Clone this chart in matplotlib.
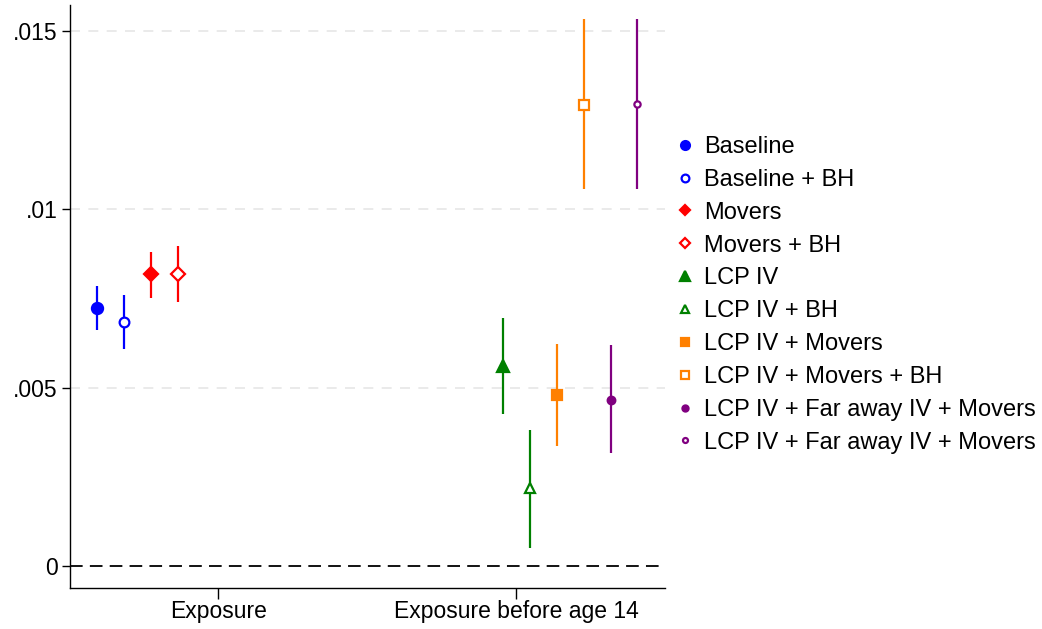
import matplotlib
matplotlib.use("Agg")
import matplotlib.pyplot as plt
from matplotlib.lines import Line2D

plt.rcParams['font.family'] = ['Liberation Sans', 'DejaVu Sans']

categories = ["Exposure", "Exposure before age 14"]
models = ["Baseline", "Baseline + BH", "Movers", "Movers + BH", "LCP IV", "LCP IV + BH",
          "LCP IV + Movers", "LCP IV + Movers + BH",
          "LCP IV + Far away IV + Movers", "LCP IV + Far away IV + Movers"]
model_category = [0, 0, 0, 0, 1, 1, 1, 1, 1, 1]
estimates = [0.00723, 0.00684, 0.00819, 0.00819, 0.00561, 0.00219, 0.00479, 0.01293, 0.00465, 0.01294]
ci_low = [0.00662, 0.00608, 0.00751, 0.00740, 0.00426, 0.00050, 0.00336, 0.01057, 0.00317, 0.01057]
ci_high = [0.00785, 0.00760, 0.00880, 0.00897, 0.00695, 0.00381, 0.00622, 0.01534, 0.00620, 0.01534]

colors = ["#0000ff", "#0000ff", "#ff0000", "#ff0000", "#008000", "#008000",
          "#ff8000", "#ff8000", "#800080", "#800080"]
markers = ["o", "o", "D", "D", "^", "^", "s", "s", "o", "o"]
filled = [True, False, True, False, True, False, True, False, True, False]
sizes = [8, 7, 7, 7, 8.5, 7.5, 7, 6.5, 5.5, 4.5]

y_ticks = [0, 0.005, 0.01, 0.015]
y_tick_labels = ["0", ".005", ".01", ".015"]

fig = plt.figure(figsize=(10.42, 6.29), dpi=100)
ax = fig.add_axes([70 / 1042, 1 - 588 / 629, 595 / 1042, 583 / 629])

spacing = 0.0906
n = len(models)
for k in range(n):
    x = model_category[k] + 1 + (k - (n - 1) / 2) * spacing
    ax.plot([x, x], [ci_low[k], ci_high[k]], color=colors[k], lw=1.6, zorder=3,
            solid_capstyle='butt')
    ax.plot([x], [estimates[k]], marker=markers[k], ms=sizes[k], color=colors[k],
            mfc=colors[k] if filled[k] else "white", mec=colors[k], mew=1.6,
            linestyle="none", zorder=4)

for yv in y_ticks[1:]:
    ax.axhline(yv, color="#e6e6e6", lw=1.2, dashes=(6, 5), zorder=1)
ax.axhline(0, color="black", lw=1.3, dashes=(7, 4), zorder=2)

ax.set_xlim(0.503, 2.5)
ax.set_ylim(-0.00062, 0.01573)
ax.set_xticks([1, 2])
ax.set_xticklabels(categories, fontsize=16.5)
ax.set_yticks(y_ticks)
ax.set_yticklabels(y_tick_labels, fontsize=16.5)
ax.tick_params(axis='x', length=8, width=1, pad=0.5)
ax.tick_params(axis='y', length=6, width=1, pad=3)
for s in ["top", "right"]:
    ax.spines[s].set_visible(False)
for s in ["left", "bottom"]:
    ax.spines[s].set_linewidth(1)

handles = []
for k in range(n):
    handles.append(Line2D([], [], marker=markers[k], ms=sizes[k] * 0.8, color=colors[k],
                          mfc=colors[k] if filled[k] else "white", mec=colors[k],
                          mew=1.6, linestyle="none"))
fig.legend(handles, models, loc="upper left", bbox_to_anchor=(677 / 1042, 1 - 136 / 629),
           frameon=False, fontsize=17, handlelength=0.7, handletextpad=0.45,
           labelspacing=0.46, borderaxespad=0, borderpad=0)

fig.savefig("out.png", dpi=100, facecolor="white")
